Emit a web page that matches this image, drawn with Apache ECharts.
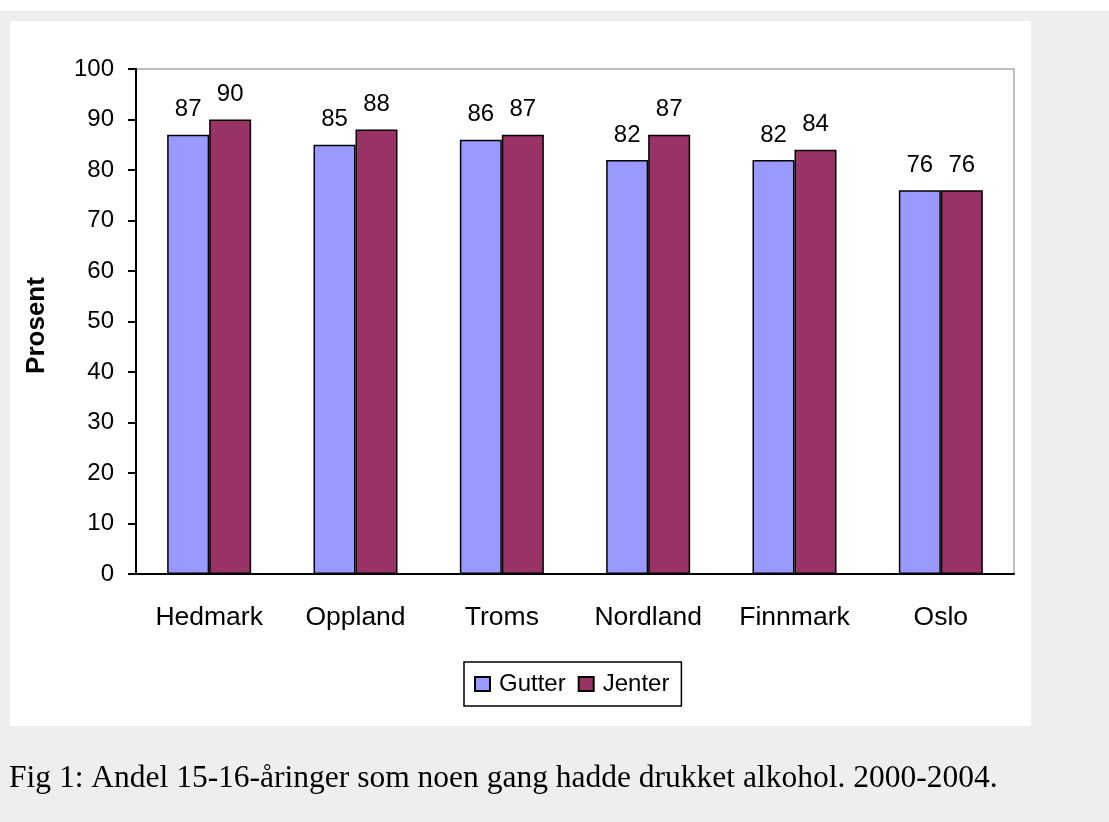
<!DOCTYPE html>
<html>
<head>
<meta charset="utf-8">
<script src="https://cdn.jsdelivr.net/npm/echarts@6/dist/echarts.min.js"></script>
<style>
  html, body { margin: 0; padding: 0; background: #fff; }
  #chart { width: 1109px; height: 822px; }
</style>
</head>
<body>
<div id="chart"></div>
<script>
const fylker = ['Hedmark', 'Oppland', 'Troms', 'Nordland', 'Finnmark', 'Oslo']
const gutter = [87, 85, 86, 82, 82, 76]
const jenter = [90, 88, 87, 87, 84, 76]
const yTicks = { min: 0, max: 100, interval: 10 }
const caption = 'Fig 1: Andel 15-16-åringer som noen gang hadde drukket alkohol. 2000-2004.'

const chart = echarts.init(document.getElementById('chart'), null, { renderer: 'canvas' })

const labelStyle = {
    show: true,
    position: 'top',
    distance: 13,
    color: '#000',
    fontFamily: 'Liberation Sans, Arial, sans-serif',
    fontSize: 24
}

const option = {
    backgroundColor: '#fff',
    animation: false,
    textStyle: { fontFamily: 'Liberation Sans, Arial, sans-serif', color: '#000' },
    graphic: [
        // grå bakgrunn og hvitt panel
        { type: 'rect', z: -10, shape: { x: 0, y: 11, width: 1109, height: 811 }, style: { fill: '#eeeeee' } },
        { type: 'rect', z: -9, shape: { x: 10, y: 21, width: 1021, height: 705 }, style: { fill: '#fff' } },
        {
            type: 'text',
            left: 9,
            top: 763,
            style: {
                text: caption,
                fill: '#000',
                font: '31.5px "Liberation Serif", "Times New Roman", serif'
            }
        }
    ],
    grid: {
        left: 136,
        top: 69,
        right: 95,
        bottom: 248,
        show: true,
        borderColor: '#808080',
        borderWidth: 1,
        backgroundColor: 'transparent'
    },
    legend: {
        left: 464,
        top: 662,
        data: ['Gutter', 'Jenter'],
        icon: 'rect',
        borderColor: '#000',
        borderWidth: 1.5,
        padding: [10, 12, 10, 10],
        itemWidth: 15,
        itemHeight: 14,
        itemGap: 12,
        textStyle: { fontSize: 24, color: '#000', padding: [2, 0, 0, 4] }
    },
    xAxis: {
        type: 'category',
        data: fylker,
        axisLine: { lineStyle: { color: '#000', width: 2 } },
        axisTick: { length: 10, lineStyle: { color: '#000', width: 2 } },
        axisLabel: { fontSize: 26.5, color: '#000', margin: 30 }
    },
    yAxis: {
        type: 'value',
        min: yTicks.min,
        max: yTicks.max,
        interval: yTicks.interval,
        name: 'Prosent',
        nameLocation: 'middle',
        nameGap: 86,
        nameTextStyle: { fontSize: 26, fontWeight: 'bold', color: '#000', padding: [0, 8, 0, 0] },
        axisLine: { show: true, lineStyle: { color: '#000', width: 2 } },
        axisTick: { show: true, length: 8, lineStyle: { color: '#000', width: 2 } },
        axisLabel: { fontSize: 24, color: '#000', margin: 22 },
        splitLine: { show: false }
    },
    series: [
        {
            name: 'Gutter',
            type: 'bar',
            data: gutter,
            barWidth: 42,
            barGap: '0%',
            itemStyle: { color: '#9999ff', borderColor: '#000', borderWidth: 1.5 },
            label: labelStyle
        },
        {
            name: 'Jenter',
            type: 'bar',
            data: jenter,
            barWidth: 42,
            itemStyle: { color: '#993366', borderColor: '#000', borderWidth: 1.5 },
            label: labelStyle
        }
    ]
}
chart.setOption(option)
</script>
</body>
</html>
